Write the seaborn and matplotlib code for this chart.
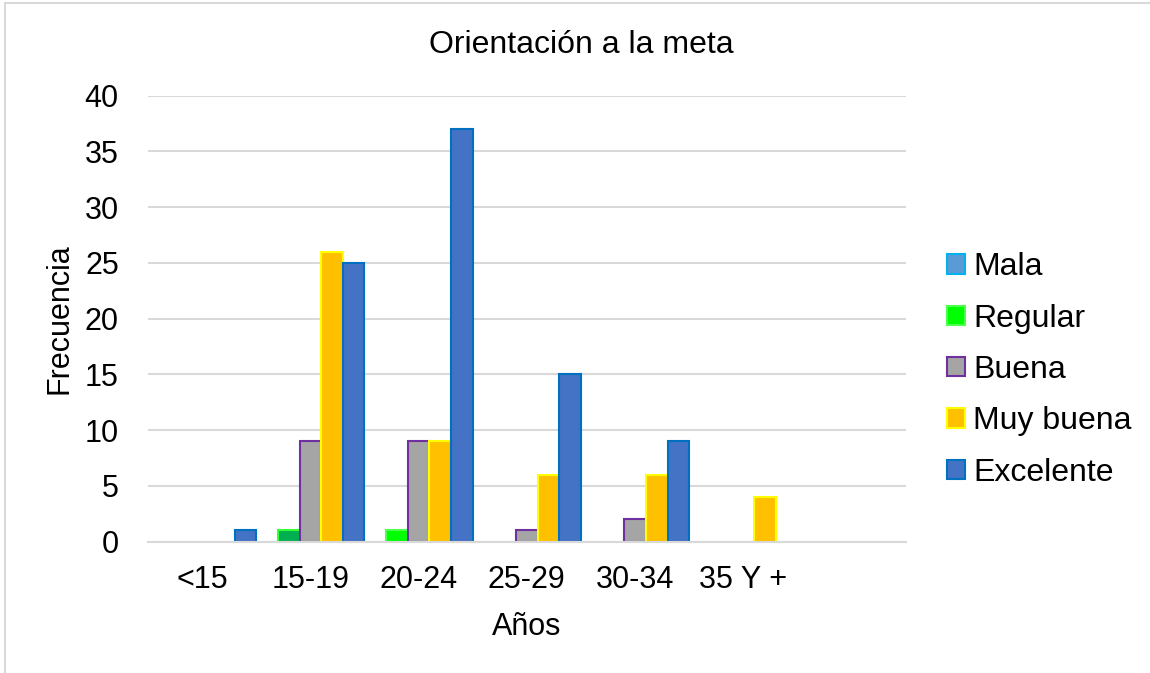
import matplotlib
matplotlib.use("Agg")
import matplotlib.pyplot as plt
from matplotlib.patches import Patch
from matplotlib.lines import Line2D
import pandas as pd
import seaborn as sns

# Age groups (the seventh slot is left empty on the axis)
categories = ["<15", "15-19", "20-24", "25-29", "30-34", "35 Y +"]
levels = ["Mala", "Regular", "Buena", "Muy buena", "Excelente"]

mala = [0, 0, 0, 0, 0, 0]
regular = [0, 1, 1, 0, 0, 0]
buena = [0, 9, 9, 1, 2, 0]
muy_buena = [0, 26, 9, 6, 6, 4]
excelente = [1, 25, 37, 15, 9, 0]

fills = ["#5B9BD5", "#00FF00", "#A5A5A5", "#FFC000", "#4472C4"]
edges = ["#00B0F0", "#4CFF4C", "#7030A0", "#FFFF00", "#0070C0"]

series = dict(zip(levels, [mala, regular, buena, muy_buena, excelente]))
df = pd.DataFrame(
    [(c, lvl, v) for lvl, vals in series.items() for c, v in zip(categories, vals)],
    columns=["Edad", "Nivel", "Frecuencia"],
)

sns.set_theme(style="white")
plt.rcParams["font.family"] = ["Liberation Sans", "DejaVu Sans"]
plt.rcParams["text.color"] = "black"
plt.rcParams["axes.labelcolor"] = "black"

W, H = 1150, 673
fig = plt.figure(figsize=(W / 100, H / 100), dpi=100)
ax = fig.add_axes([148 / W, 1 - 541.5 / H, (905.7 - 148) / W, (541.5 - 95.7) / H])

sns.barplot(
    data=df, x="Edad", y="Frecuencia", hue="Nivel",
    order=categories, hue_order=levels, palette=fills,
    width=1.0, gap=0, errorbar=None, legend=False, ax=ax,
)

# Per-bar styling: series edge colours, hide empty bars, darker green for one Regular bar
for lvl, fill, edge, cont in zip(levels, fills, edges, ax.containers):
    for bar in cont:
        bar.set_edgecolor(edge)
        bar.set_linewidth(1.5)
        bar.set_facecolor(fill)
        if bar.get_height() == 0:
            bar.set_visible(False)
        idx = int(round(bar.get_x() + bar.get_width() / 2))
        if lvl == "Regular" and categories[idx] == "15-19":
            bar.set_facecolor("#00B050")
            bar.set_edgecolor("#33FF33")

ax.set_xlim(-0.5, 6.5)
ax.set_ylim(0, 40)
ax.set_yticks(range(0, 41, 5))
ax.grid(axis="y", color="#D9D9D9", linewidth=1.5)
ax.grid(axis="x", visible=False)
ax.set_axisbelow(True)
for s in ["top", "right", "left"]:
    ax.spines[s].set_visible(False)
ax.spines["bottom"].set_color("#D9D9D9")
ax.spines["bottom"].set_linewidth(1.5)

ax.tick_params(axis="both", length=0, labelsize=22, colors="black")
ax.tick_params(axis="y", pad=21)
ax.tick_params(axis="x", pad=17)

ax.set_xlabel("Años", fontsize=22, color="black", labelpad=12)
ax.set_ylabel("Frecuencia", fontsize=22, color="black")
ax.yaxis.set_label_coords((74 - 148) / (905.7 - 148), 0.5)

fig.text(581 / W, 1 - 53 / H, "Orientación a la meta", fontsize=23,
         ha="center", va="baseline", color="black")

handles = [Patch(facecolor=f, edgecolor=e, linewidth=1.5) for f, e in zip(fills, edges)]
leg = fig.legend(
    handles, levels, loc="center left",
    bbox_to_anchor=(947 / W, 1 - 370 / H),
    frameon=False, fontsize=23,
    handlelength=0.56, handleheight=0.56, handletextpad=0.25,
    labelspacing=0.67, borderaxespad=0, borderpad=0,
)
for t in leg.get_texts():
    t.set_color("black")

# Chart-area border
fig.add_artist(Line2D([5 / W, 5 / W], [0, 1 - 3 / H], color="#D9D9D9", linewidth=1.5))
fig.add_artist(Line2D([5 / W, 1], [1 - 3 / H, 1 - 3 / H], color="#D9D9D9", linewidth=1.5))

fig.savefig("out.png", dpi=100, facecolor="white")
